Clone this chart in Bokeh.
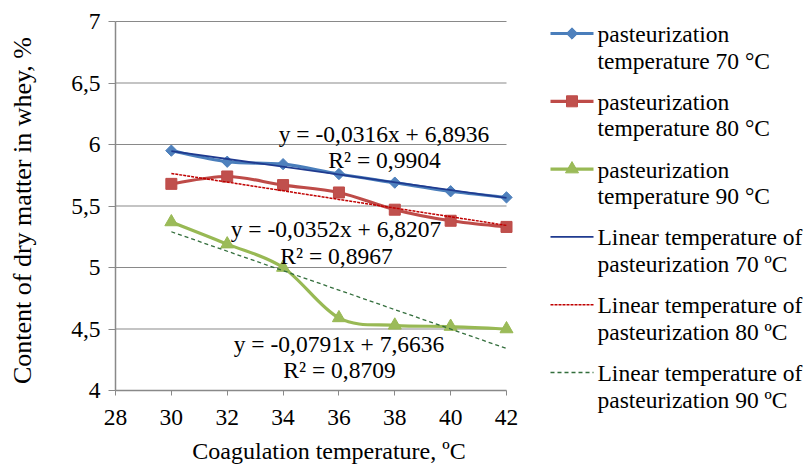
import numpy as np
from bokeh.plotting import figure
from bokeh.models import Range1d, FixedTicker, CustomJSTickFormatter, ColumnDataSource
from bokeh.embed import file_html
from bokeh.resources import INLINE
from bokeh.core.properties import value

# ---------------- data ----------------
coag_temp = [30, 32, 34, 36, 38, 40, 42]
past_70 = [5.95, 5.86, 5.84, 5.76, 5.69, 5.62, 5.57]
past_80 = [5.68, 5.74, 5.67, 5.61, 5.47, 5.38, 5.33]
past_90 = [5.37, 5.19, 5.00, 4.59, 4.53, 4.52, 4.50]

trend_slope = [-0.0316, -0.0352, -0.0791]
trend_icpt = [6.8936, 6.8207, 7.6636]
trend_r2 = [0.9904, 0.8967, 0.8709]

series_names = [["pasteurization", "temperature 70 °C"],
                ["pasteurization", "temperature 80 °C"],
                ["pasteurization", "temperature 90 °C"]]
trend_names = [["Linear temperature of", "pasteurization 70 ºC"],
               ["Linear temperature of", "pasteurization 80 ºC"],
               ["Linear temperature of", "pasteurization 90 ºC"]]

x_ticks = [28, 30, 32, 34, 36, 38, 40, 42]
y_ticks = [4, 4.5, 5, 5.5, 6, 6.5, 7]
x_title = "Coagulation temperature, ºC"
y_title = "Content of dry matter in whey, %"

# ---------------- styles / layout (pixels) ----------------
FONT = "Liberation Serif"
series_line = ["#4A7EBB", "#BE4B48", "#98B954"]
series_fill = ["#4F81BD", "#C0504D", "#9BBB59"]
trend_color = ["#1F3A8F", "#C00000", "#336E3C"]
trend_dash = ["solid", "3 1", "4 3"]
trend_width = [1.8, 1.5, 1.3]
GRID = "#898989"

W, H = 808, 465
PL, PR, PT, PB = 115, 506, 21, 390          # plot-area box in pixels
X0, X1 = x_ticks[0], x_ticks[-1]
Y0, Y1 = y_ticks[0], y_ticks[-1]
SX = (PR - PL) / (X1 - X0)
SY = (PB - PT) / (Y1 - Y0)


def px_x(px):
    return X0 + (px - PL) / SX


def px_y(py):
    return Y0 + (PB - py) / SY


def fmt(v, nd):
    return f"{v:.{nd}f}".replace(".", ",")


def smooth(xs, ys):
    x = np.asarray(xs, float)
    y = np.asarray(ys, float)
    n = len(x)
    d = dict(x0=[], y0=[], x1=[], y1=[], cx0=[], cy0=[], cx1=[], cy1=[])
    for i in range(n - 1):
        a = i - 1 if i > 0 else i
        b = i + 2 if i + 2 < n else i + 1
        d["x0"].append(x[i]); d["y0"].append(y[i])
        d["x1"].append(x[i + 1]); d["y1"].append(y[i + 1])
        d["cx0"].append(x[i] + (x[i + 1] - x[a]) / 6)
        d["cy0"].append(y[i] + (y[i + 1] - y[a]) / 6)
        d["cx1"].append(x[i + 1] - (x[b] - x[i]) / 6)
        d["cy1"].append(y[i + 1] - (y[b] - y[i]) / 6)
    return ColumnDataSource(d)


p = figure(width=W, height=H,
           x_range=Range1d(px_x(0), px_x(W)), y_range=Range1d(px_y(H), px_y(0)),
           output_backend="svg", toolbar_location=None, min_border=0)
p.outline_line_color = None
p.grid.visible = False

# axes pinned to the plot-area edges
p.xaxis.fixed_location = Y0
p.yaxis.fixed_location = X0
p.xaxis.bounds = (X0, X1)
p.yaxis.bounds = (Y0, Y1)
p.xaxis.ticker = FixedTicker(ticks=x_ticks)
p.yaxis.ticker = FixedTicker(ticks=y_ticks)
p.yaxis.formatter = CustomJSTickFormatter(code="return tick.toString().replace('.', ',');")
for ax in (p.xaxis, p.yaxis):
    ax.axis_line_color = GRID
    ax.axis_line_width = 1.5
    ax.major_tick_line_color = GRID
    ax.major_tick_line_width = 1
    ax.major_tick_in = 0
    ax.minor_tick_line_color = None
    ax.major_label_text_font = FONT
    ax.major_label_text_font_size = "23.5px"
    ax.major_label_text_color = "black"
p.xaxis.major_tick_out = 5
p.yaxis.major_tick_out = 7
p.xaxis.major_label_standoff = 14
p.yaxis.major_label_standoff = 8

# horizontal gridlines at the y ticks
gy = [t for t in y_ticks if t > Y0]
p.segment(x0=[X0] * len(gy), x1=[X1] * len(gy), y0=gy, y1=gy, line_color=GRID, line_width=1)

series = [past_70, past_80, past_90]
markers = ["square", "square", "triangle"]
angles = [np.pi / 4, 0, 0]
sizes = [8, 11, 13]

for i, ys in enumerate(series):
    p.bezier(x0="x0", y0="y0", x1="x1", y1="y1", cx0="cx0", cy0="cy0", cx1="cx1", cy1="cy1",
             source=smooth(coag_temp, ys), line_color=series_line[i], line_width=3.2,
             line_cap="round")
for i, ys in enumerate(series):
    p.scatter(coag_temp, ys, marker=markers[i], angle=angles[i], size=sizes[i],
              fill_color=series_fill[i], line_color=series_line[i], line_width=1)

for i in range(3):
    xs = [coag_temp[0], coag_temp[-1]]
    ys = [trend_slope[i] * x + trend_icpt[i] for x in xs]
    p.line(xs, ys, line_color=trend_color[i], line_width=trend_width[i],
           line_dash=trend_dash[i])

# trend equations (pixel anchors: centre x, middle y)
eq_px = [(383.5, 133, 384, 159), (335.5, 228, 336, 255), (338.5, 343, 339, 369)]
ex, ey, et = [], [], []
for i in range(3):
    a, b, c, d = eq_px[i]
    ex += [px_x(a), px_x(c)]
    ey += [px_y(b), px_y(d)]
    et += [f"y = {fmt(trend_slope[i], 4)}x + {fmt(trend_icpt[i], 4)}",
           f"R² = {fmt(trend_r2[i], 4)}"]
p.text(x=ex, y=ey, text=et, text_align="center", text_baseline="middle",
       text_font=value(FONT), text_font_size="23.5px", text_color="black")

# legend
step = 67.8
ly0 = 33
sx0, sx1, smid, tx = 550, 593, 571.5, 597
names = series_names + trend_names
for k in range(6):
    yy = ly0 + k * step
    if k < 3:
        p.line([px_x(sx0), px_x(sx1)], [px_y(yy)] * 2, line_color=series_line[k], line_width=3.2)
        p.scatter([px_x(smid)], [px_y(yy)], marker=markers[k], angle=angles[k], size=sizes[k],
                  fill_color=series_fill[k], line_color=series_line[k])
    else:
        j = k - 3
        p.line([px_x(sx0), px_x(sx1)], [px_y(yy)] * 2, line_color=trend_color[j],
               line_width=trend_width[j], line_dash=trend_dash[j])
    p.text(x=[px_x(tx)] * 2, y=[px_y(yy + 0.5), px_y(yy + 27)], text=names[k],
           text_font=value(FONT), text_font_size="23.5px", text_color="black",
           text_baseline="middle", text_align="left")

# axis titles
p.text(x=[px_x(22)], y=[px_y(210)], text=[y_title], angle=np.pi / 2, text_align="center",
       text_baseline="middle", text_font=value(FONT), text_font_size="26px", text_color="black")
p.text(x=[px_x(328.5)], y=[px_y(450)], text=[x_title], text_align="center",
       text_baseline="middle", text_font=value(FONT), text_font_size="24px",
       text_color="black")

open("out.html", "w").write(file_html(p, INLINE))
